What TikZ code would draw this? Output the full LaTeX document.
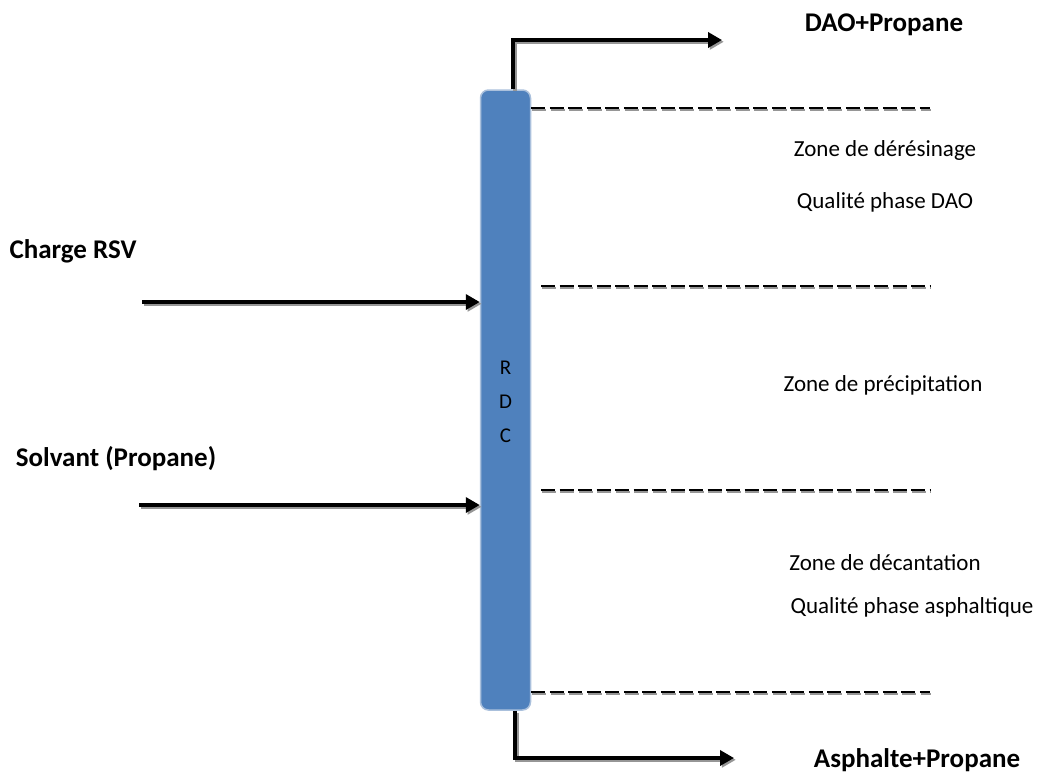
\documentclass[tikz,border=0pt]{standalone}
\usepackage{fontspec}
\setmainfont{Carlito}
\usepackage{xcolor}
\usepackage{tikz}
\usetikzlibrary{arrows.meta}
\definecolor{columnblue}{RGB}{79,129,189}
\definecolor{columnrim}{RGB}{170,192,220}
\definecolor{shadowgray}{RGB}{150,150,150}

\tikzset{
  pipe/.style={line width=4.5pt, -{Triangle[length=14pt,width=15pt]},
    preaction={draw=shadowgray, line width=4.5pt, -{Triangle[length=14pt,width=15pt]},
      transform canvas={shift={(1.8pt,-1.8pt)}}}},
  zoneline/.style={line width=2.5pt, dash pattern=on 14pt off 4.5pt,
    preaction={draw=shadowgray, line width=2.5pt, dash pattern=on 14pt off 4.5pt,
      transform canvas={shift={(0.8pt,-2.2pt)}}}},
  stream/.style={font=\fontsize{27}{32}\selectfont\bfseries, anchor=base},
  zonetext/.style={font=\fontsize{23}{28}\selectfont, anchor=base},
}

\begin{document}
\begin{tikzpicture}[x=1pt, y=-1pt]
\useasboundingbox (0,0) rectangle (1038,774);
% Column
\node[draw=columnrim, line width=1.5pt, fill=columnblue, rounded corners=8pt,
  minimum width=50pt, minimum height=620pt, inner sep=0pt] (column) at (505.5,400) {};
\node[font=\fontsize{21}{34}\selectfont, align=center] (rdc) at (505.5,402) {R\\D\\C};

% Stream labels
\node[stream] (daolabel) at (884,31) {DAO+Propane};
\node[stream] (chargelabel) at (73,258) {Charge RSV};
\node[stream] (solvantlabel) at (116,466) {Solvant (Propane)};
\node[stream] (asphlabel) at (917,767) {Asphalte+Propane};

% Zone labels
\node[zonetext] (zone1) at (885,156) {Zone de dérésinage};
\node[zonetext] (qual1) at (885,208) {Qualité phase DAO};
\node[zonetext] (zone2) at (883,391) {Zone de précipitation};
\node[zonetext] (zone3) at (885,570) {Zone de décantation};
\node[zonetext] (qual3) at (912,613) {Qualité phase asphaltique};

% Free ends
\coordinate (chargein) at (142,302);
\coordinate (solvantin) at (139,505);
\coordinate (daoout) at (722,40);
\coordinate (asphout) at (734,758);

% Arrows
\draw[pipe] (chargein) -- (column.west |- chargein);
\draw[pipe] (solvantin) -- (column.west |- solvantin);
\draw[pipe] ([xshift=7.5pt]column.north) |- (daoout);
\draw[pipe] ([xshift=9.5pt]column.south) |- (asphout);

% Zone limits
\draw[zoneline] (column.east |- 0,108) -- (930,108);
\draw[zoneline] (541,286) -- (930,286);
\draw[zoneline] (541,490) -- (930,490);
\draw[zoneline] (column.east |- 0,692) -- (930,692);
\end{tikzpicture}
\end{document}
